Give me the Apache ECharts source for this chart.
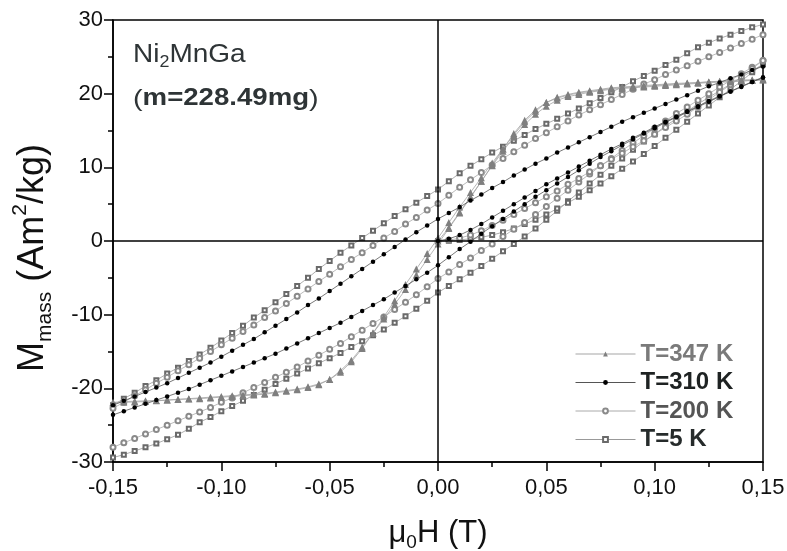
<!DOCTYPE html>
<html>
<head>
<meta charset="utf-8">
<script src="https://cdn.jsdelivr.net/npm/echarts@6/dist/echarts.min.js"></script>
<style>
html,body{margin:0;padding:0;background:#fff;}
#chart{width:787px;height:551px;}
</style>
</head>
<body>
<div id="chart"></div>
<script>
// magnetic field grid (T), left to right
var field = [-0.15,-0.145,-0.14,-0.135,-0.13,-0.125,-0.12,-0.115,-0.11,-0.105,
  -0.1,-0.095,-0.09,-0.085,-0.08,-0.075,-0.07,-0.065,-0.06,-0.055,
  -0.05,-0.045,-0.04,-0.035,-0.03,-0.025,-0.02,-0.015,-0.01,-0.005,
  0,
  0.005,0.01,0.015,0.02,0.025,0.03,0.035,0.04,0.045,0.05,
  0.055,0.06,0.065,0.07,0.075,0.08,0.085,0.09,0.095,0.1,
  0.105,0.11,0.115,0.12,0.125,0.13,0.135,0.14,0.145,0.15];
// first magnetisation curve, 0 -> 0.15 T
var fieldVirgin = [0,0.005,0.01,0.015,0.02,0.025,0.03,0.035,0.04,0.045,0.05,
  0.055,0.06,0.065,0.07,0.075,0.08,0.085,0.09,0.095,0.1,
  0.105,0.11,0.115,0.12,0.125,0.13,0.135,0.14,0.145,0.15];

// T=347 K
var m347Dec = [-22.0,-21.9,-21.85,-21.8,-21.7,-21.6,-21.5,-21.4,-21.3,-21.2,
  -21.1,-21.0,-20.9,-20.8,-20.7,-20.5,-20.3,-20.1,-19.8,-19.4,
  -18.8,-17.8,-16.4,-14.6,-12.5,-10.3,-8.1,-5.9,-3.8,-1.7,
  0.4,
  2.5,4.6,6.6,8.6,10.6,12.5,14.4,16.2,17.6,18.8,
  19.5,19.9,20.2,20.4,20.6,20.8,20.9,21.0,21.1,21.2,
  21.3,21.4,21.45,21.5,21.6,21.65,21.7,21.75,21.8,21.9];
var m347Inc = [-21.9,-21.8,-21.75,-21.7,-21.65,-21.6,-21.5,-21.45,-21.4,-21.3,
  -21.2,-21.1,-21.0,-20.9,-20.8,-20.6,-20.4,-20.2,-19.9,-19.5,
  -18.8,-17.6,-16.2,-14.4,-12.5,-10.6,-8.6,-6.6,-4.6,-2.5,
  -0.4,
  1.7,3.8,5.9,8.1,10.3,12.5,14.6,16.4,17.8,18.8,
  19.4,19.8,20.1,20.3,20.5,20.7,20.8,20.9,21.0,21.1,
  21.2,21.3,21.4,21.5,21.6,21.7,21.8,21.85,21.9,22.0];
var m347Virgin = [0,1.8,3.9,6.0,8.1,10.2,12.2,14.1,15.8,17.2,18.3,
  19.1,19.6,19.9,20.2,20.4,20.6,20.7,20.8,20.9,21.0,
  21.1,21.2,21.3,21.4,21.5,21.55,21.6,21.7,21.8,21.85];

// T=310 K
var m310Dec = [-22.3,-21.7,-21.1,-20.5,-19.9,-19.3,-18.6,-17.9,-17.2,-16.5,
  -15.7,-14.9,-14.1,-13.3,-12.4,-11.5,-10.6,-9.7,-8.7,-7.8,
  -6.8,-5.8,-4.8,-3.8,-2.8,-1.8,-0.8,0.2,1.2,2.1,
  3.0,
  3.8,4.6,5.5,6.3,7.2,8.0,8.9,9.7,10.5,11.2,
  12.0,12.7,13.4,14.1,14.8,15.5,16.2,16.8,17.4,18.0,
  18.6,19.2,19.8,20.4,21.0,21.5,22.1,22.6,23.2,23.7];
var m310Inc = [-23.6,-23.1,-22.6,-22.1,-21.6,-21.1,-20.6,-20.1,-19.5,-18.9,
  -18.3,-17.7,-17.1,-16.5,-15.9,-15.3,-14.6,-13.9,-13.2,-12.5,
  -11.8,-11.1,-10.3,-9.5,-8.7,-7.9,-7.0,-6.1,-5.2,-4.3,
  -3.3,
  -2.2,-1.1,-0.1,1.0,2.0,3.0,4.0,5.0,6.0,6.9,
  7.8,8.7,9.6,10.5,11.4,12.2,13.0,13.8,14.6,15.3,
  16.1,16.8,17.5,18.2,18.9,19.6,20.3,20.9,21.6,22.2];
var m310Virgin = [0,0.3,0.8,1.5,2.3,3.2,4.1,5.0,5.9,6.8,7.7,
  8.5,9.3,10.1,10.9,11.7,12.5,13.2,14.0,14.7,15.5,
  16.2,16.9,17.6,18.3,19.0,19.7,20.3,21.0,21.6,22.2];

// T=200 K
var m200Dec = [-22.7,-21.9,-21.0,-20.2,-19.3,-18.5,-17.6,-16.8,-15.9,-15.0,
  -14.1,-13.2,-12.3,-11.4,-10.4,-9.5,-8.5,-7.5,-6.5,-5.5,
  -4.5,-3.5,-2.5,-1.6,-0.6,0.4,1.3,2.3,3.2,4.2,
  5.1,
  6.2,7.3,8.3,9.3,10.3,11.2,12.1,13.0,13.9,14.7,
  15.5,16.3,17.1,17.8,18.5,19.2,19.9,20.6,21.3,21.9,
  22.6,23.2,23.8,24.4,25.0,25.6,26.2,26.8,27.4,28.0];
var m200Inc = [-28.0,-27.4,-26.8,-26.2,-25.6,-25.0,-24.4,-23.8,-23.2,-22.6,
  -21.9,-21.3,-20.6,-19.9,-19.2,-18.5,-17.8,-17.1,-16.3,-15.5,
  -14.7,-13.9,-13.0,-12.1,-11.2,-10.3,-9.3,-8.3,-7.3,-6.2,
  -5.1,
  -4.2,-3.2,-2.3,-1.3,-0.4,0.6,1.6,2.5,3.6,4.7,
  5.8,6.9,8.0,9.1,10.2,11.2,12.3,13.3,14.3,15.3,
  16.3,17.3,18.2,19.1,20.0,20.9,21.8,22.7,23.6,24.5];
var m200Virgin = [0,0.1,0.4,0.8,1.4,2.1,2.8,3.6,4.4,5.2,6.0,
  6.8,7.7,8.5,9.4,10.2,11.1,11.9,12.8,13.6,14.5,
  15.4,16.3,17.2,18.2,19.2,20.2,21.2,22.3,23.4,24.5];

// T=5 K
var m5Dec = [-22.3,-21.4,-20.6,-19.7,-18.9,-18.0,-17.2,-16.3,-15.4,-14.5,
  -13.5,-12.5,-11.5,-10.4,-9.4,-8.3,-7.2,-6.1,-5.0,-3.8,
  -2.7,-1.6,-0.6,0.4,1.4,2.4,3.4,4.3,5.2,6.1,
  7.0,
  8.1,9.2,10.2,11.1,12.0,12.8,13.6,14.4,15.2,15.9,
  16.6,17.3,18.0,18.7,19.4,20.2,20.9,21.7,22.4,23.1,
  23.9,24.6,25.5,26.3,26.9,27.5,28.0,28.5,29.0,29.4];
var m5Inc = [-29.4,-29.0,-28.5,-28.0,-27.5,-26.9,-26.3,-25.5,-24.6,-23.9,
  -23.1,-22.4,-21.7,-20.9,-20.2,-19.4,-18.7,-18.0,-17.3,-16.6,
  -15.9,-15.2,-14.4,-13.6,-12.8,-12.0,-11.1,-10.2,-9.2,-8.1,
  -7.0,
  -6.1,-5.2,-4.3,-3.4,-2.4,-1.4,-0.4,0.6,1.7,2.9,
  4.1,5.4,6.6,7.8,9.0,10.2,11.2,12.4,13.5,14.5,
  15.6,16.6,17.6,18.6,19.5,20.4,21.3,22.2,23.1,24.0];
var m5Virgin = [0,0.05,0.15,0.3,0.5,0.8,1.2,1.7,2.3,2.9,3.6,
  4.4,5.2,6.0,6.9,7.8,8.8,9.8,10.8,11.8,12.9,
  14.0,15.1,16.2,17.3,18.4,19.5,20.6,21.7,22.9,24.0];

var xTicks = { min: -0.15, max: 0.15, step: 0.05 };
var yTicks = { min: -30, max: 30, step: 10 };

var myChart = echarts.init(document.getElementById('chart'));

// one loop branch -> one line series
function branch(name, xs, ys, st) {
    return {
        name: name,
        type: 'line',
        data: xs.map(function (h, i) { return [h, ys[i]]; }),
        symbol: st.symbol,
        symbolSize: st.size,
        showAllSymbol: true,
        itemStyle: st.item,
        lineStyle: st.line,
        emphasis: { disabled: true },
        z: st.z
    };
}

var st347 = { symbol: 'triangle', size: 7, item: { color: '#7f7f7f' }, line: { color: '#a5a5a5', width: 0.8 }, z: 3 };
var st310 = { symbol: 'circle', size: 4.5, item: { color: '#000' }, line: { color: '#555', width: 0.8 }, z: 4 };
var st200 = { symbol: 'emptyCircle', size: 5, item: { color: '#8a8a8a', borderWidth: 1 }, line: { color: '#aaa', width: 0.8 }, z: 2 };
var st5 = { symbol: 'emptyRect', size: 4, item: { color: '#6a6a6a', borderWidth: 1 }, line: { color: '#999', width: 0.8 }, z: 2 };

var series = [
    branch('T=5 K', field, m5Dec, st5),
    branch('T=5 K', field, m5Inc, st5),
    branch('T=5 K', fieldVirgin, m5Virgin, st5),
    branch('T=200 K', field, m200Dec, st200),
    branch('T=200 K', field, m200Inc, st200),
    branch('T=200 K', fieldVirgin, m200Virgin, st200),
    branch('T=347 K', field, m347Dec, st347),
    branch('T=347 K', field, m347Inc, st347),
    branch('T=347 K', fieldVirgin, m347Virgin, st347),
    branch('T=310 K', field, m310Dec, st310),
    branch('T=310 K', field, m310Inc, st310),
    branch('T=310 K', fieldVirgin, m310Virgin, st310)
];
// zero lines through the origin
series.push({
    type: 'line',
    data: [],
    silent: true,
    markLine: {
        silent: true,
        symbol: 'none',
        label: { show: false },
        animation: false,
        lineStyle: { color: '#000', width: 1.5, type: 'solid' },
        data: [{ xAxis: 0 }, { yAxis: 0 }]
    },
    z: 1
});

var txt = '#2e3436';
var axisFont = 'Liberation Sans, Arial, sans-serif';

myChart.setOption({
    animation: false,
    backgroundColor: '#fff',
    grid: {
        left: 113, right: 24, top: 20, bottom: 89,
        outerBoundsMode: 'none',
        show: true, borderColor: '#000', borderWidth: 1.5
    },
    legend: {
        orient: 'vertical',
        left: 570, top: 337,
        itemWidth: 60, itemHeight: 6, itemGap: 4.5,
        selectedMode: false,
        lineStyle: { width: 1 },
        textStyle: { fontSize: 24, lineHeight: 24, fontWeight: 'bold', fontFamily: axisFont },
        data: [
            { name: 'T=347 K', textStyle: { color: '#7a7a7a' } },
            { name: 'T=310 K', textStyle: { color: '#1e2222' } },
            { name: 'T=200 K', textStyle: { color: '#555' } },
            { name: 'T=5 K', textStyle: { color: '#262b2b' } }
        ]
    },
    xAxis: {
        type: 'value',
        min: xTicks.min, max: xTicks.max, interval: xTicks.step,
        axisLine: { show: true, onZero: false, lineStyle: { color: '#000', width: 1.5 } },
        axisTick: { show: true, length: 9, lineStyle: { color: '#000', width: 1.5 } },
        minorTick: { show: true, splitNumber: 2, length: 5, lineStyle: { color: '#000', width: 1.5 } },
        splitLine: { show: false },
        axisLabel: {
            fontSize: 22, color: '#111', fontFamily: axisFont, margin: 15,
            formatter: function (v) { return v.toFixed(2).replace('.', ','); }
        },
        name: '{a|\u03bc}{b|0}{a|H (T)}',
        nameLocation: 'middle',
        nameGap: 52,
        nameTextStyle: {
            color: '#111', fontFamily: axisFont,
            rich: {
                a: { fontSize: 31, lineHeight: 38, fontFamily: axisFont, color: '#111' },
                b: { fontSize: 19, lineHeight: 18, verticalAlign: 'bottom', fontFamily: axisFont, color: '#111' }
            }
        }
    },
    yAxis: {
        type: 'value',
        min: yTicks.min, max: yTicks.max, interval: yTicks.step,
        axisLine: { show: true, onZero: false, lineStyle: { color: '#000', width: 1.5 } },
        axisTick: { show: true, length: 9, lineStyle: { color: '#000', width: 1.5 } },
        minorTick: { show: true, splitNumber: 2, length: 5, lineStyle: { color: '#000', width: 1.5 } },
        splitLine: { show: false },
        axisLabel: { fontSize: 22, color: '#111', fontFamily: axisFont, margin: 10 },
        name: '{a|M}{b|mass}{a| (Am}{c|2}{a|/kg)}',
        nameLocation: 'middle',
        nameGap: 57,
        nameTextStyle: {
            color: '#111', fontFamily: axisFont,
            padding: [0, 34, 0, 0],
            rich: {
                a: { fontSize: 36, lineHeight: 46, fontFamily: axisFont, color: '#111' },
                b: { fontSize: 21, lineHeight: 21, verticalAlign: 'bottom', fontFamily: axisFont, color: '#111' },
                c: { fontSize: 21, lineHeight: 21, verticalAlign: 'top', fontFamily: axisFont, color: '#111' }
            }
        }
    },
    graphic: [
        {
            type: 'text', left: 133, top: 43, scaleX: 1.12,
            style: {
                text: '{a|Ni}{b|2}{a|MnGa}',
                rich: {
                    a: { fontSize: 25, lineHeight: 30, fontFamily: axisFont, fill: txt },
                    b: { fontSize: 16, lineHeight: 16, verticalAlign: 'bottom', fontFamily: axisFont, fill: txt }
                }
            }
        },
        {
            type: 'text', left: 133, top: 87, scaleX: 1.2,
            style: {
                text: '{p|(}{q|m=228.49mg}{p|)}',
                rich: {
                    p: { fontSize: 24, lineHeight: 30, fontFamily: axisFont, fill: txt },
                    q: { fontSize: 23, lineHeight: 30, fontWeight: 'bold', fontFamily: axisFont, fill: txt }
                }
            }
        }
    ],
    series: series
});
</script>
</body>
</html>
